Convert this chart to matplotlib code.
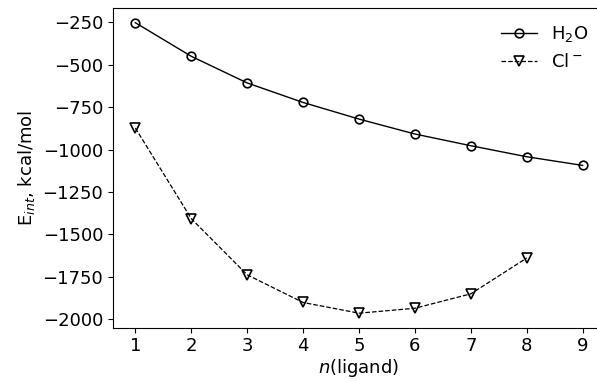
import numpy as np
import matplotlib.pyplot as plt

n_h2o = [1, 2, 3, 4, 5, 6, 7, 8, 9]
e_h2o = [-252, -450, -607, -722, -820, -908, -977, -1042, -1093]
n_cl = [1, 2, 3, 4, 5, 6, 7, 8]
e_cl = [-873, -1407, -1738, -1901, -1964, -1935, -1850, -1639]

plt.rcParams['font.size'] = 13

fig = plt.figure(figsize=(5.97, 3.81), dpi=100)
# axes run a bit past the right edge, like the cropped original
ax = fig.add_axes([0.1893, 0.1399, 0.8241, 0.8386])

ax.plot(n_h2o, e_h2o, 'k-', marker='o', mfc='none', ms=6.2, mew=1.2, lw=1.0,
        label='H$_2$O')
ax.plot(n_cl, e_cl, 'k--', marker='v', mfc='none', ms=6.5, mew=1.2, lw=0.9,
        label='Cl$^-$')

ax.set_xticks(range(1, 10))
ax.set_yticks([-250, -500, -750, -1000, -1250, -1500, -1750, -2000])
ax.set_xlabel('$n$(ligand)', labelpad=1)
ax.set_ylabel('E$_{int}$, kcal/mol')
ax.legend(loc='upper right', frameon=False)

fig.savefig('out.png', dpi=100)
